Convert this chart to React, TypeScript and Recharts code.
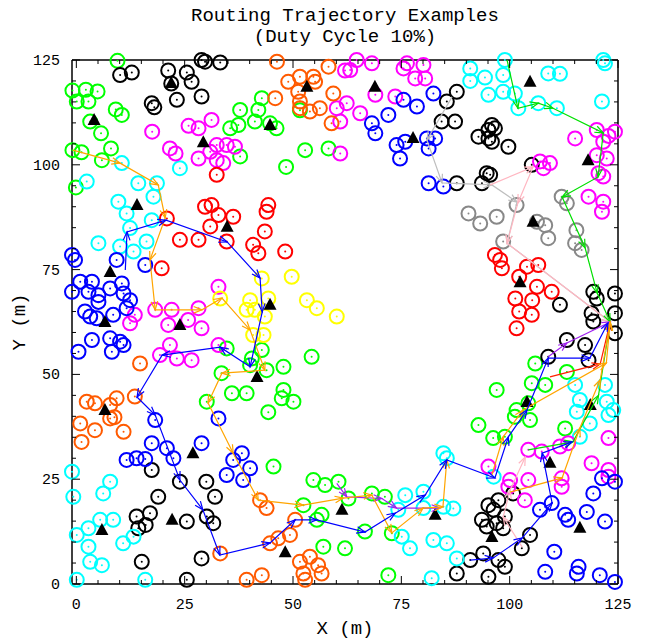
import React from "react";
import { ScatterChart, Scatter, XAxis, YAxis, ReferenceLine } from "recharts";

type Pt = [number, number];

// node positions (m), one list per colour group
const greenNodes: Pt[] = [
  [9.5, 124.8], [-0.9, 117.7], [2.2, 117.9], [4.9, 117.5], [0.1, 115.1], [2.8, 115.1], [9.1, 113.2],
  [10.5, 111.9], [3.2, 110.3], [5.7, 107.5], [8, 103.9], [-0.9, 103.5], [1.2, 103], [5.9, 101.1], [-0.1, 94.6],
  [42.8, 115.9], [37.8, 113.1], [42, 113.1], [35.5, 108.7], [37.4, 109.5], [41.2, 110.3], [44.7, 109.9],
  [46.2, 108.7], [51.6, 113], [52.8, 103.5], [58.2, 103.9], [48.4, 99.5], [37.8, 102],
  [34.7, 56.2], [42.8, 55.8], [40.5, 53.8], [40.1, 52.2], [43.9, 51], [47.8, 51.8], [54.3, 54.2], [33.5, 50.3],
  [35.9, 45.5], [39.3, 45.5], [47.8, 46.3], [47.4, 44.3], [50.1, 43.5], [30.1, 43.5], [44.3, 41],
  [45.5, 28], [54.7, 24.8], [57.4, 23.6], [60.5, 24.4], [52.4, 18.8], [55.5, 15.3], [56.6, 16.5], [57, 8.9], [62, 8.5],
  [92.8, 37.9], [96.2, 34.8], [68.2, 21.6], [71.2, 20.8], [62.8, 20.4], [72.8, 12.1], [66.6, 12.5], [72, 2.1],
  [97, 46.3], [105.9, 52.6], [113.2, 50.6], [105.1, 47.9], [108.2, 47.5], [104.3, 43.1], [101.6, 41.5],
  [101.2, 39.9], [104.7, 39.1], [98.9, 35.1], [112.8, 37.1],
];

const blackNodes: Pt[] = [
  [10.1, 121.4], [12.8, 122], [21.2, 122.5], [25.5, 122], [28.9, 125], [21.9, 119.4], [26.6, 119.8],
  [23.2, 115.5], [28.9, 116.3], [17.4, 114.7], [18, 113.7], [29.7, 124.6], [33.2, 124.4],
  [87.8, 117.4], [85.5, 115.1], [84.3, 110.3], [87.4, 110.3], [92.8, 106.7], [95.1, 108.3], [95.1, 106.3],
  [95.9, 109.5], [87.8, 95.6], [93.6, 95.6], [94.7, 98], [96.6, 108.7], [95.9, 105.5], [99.7, 104.3],
  [95.5, 97.6], [105.1, 100],
  [111.6, 66.6], [119.3, 69.7], [120.1, 68.1], [124.3, 69.3], [124.3, 64.6], [124.3, 59.8], [118.9, 64.6],
  [119.3, 62.6], [113.2, 58.2], [117.4, 57], [108.9, 54.2], [118.2, 53.4],
  [100.8, 21.6], [97.4, 20], [96.3, 17.7], [98.9, 16.1], [97, 14.5], [98.5, 13.3], [104.7, 11.7],
  [102.8, 8.5], [97.4, 5.7], [98.9, 4.1], [95.1, 18.8], [93.6, 15.3], [94.7, 13.7], [90.9, 5.7],
  [93.9, 7.3], [87.8, 2.5], [95.1, 1.7],
  [30, 24.4], [32, 20.8], [30.1, 16.1], [31.6, 14.5], [28.9, 6.1], [17.4, 27.2], [23.9, 24.4],
  [18.9, 20.8], [13.9, 16.1], [17, 16.9], [14.3, 13.3], [16, 14.1], [25.5, 14.9], [15.1, 5.3], [25.5, 1],
];

const cyanNodes: Pt[] = [
  [10.5, 100.4], [23.9, 99.2], [2.4, 96], [14.3, 95.6], [18.6, 95.6], [17.8, 92.4], [9.7, 91.2],
  [11.6, 88.4], [17.4, 86.8], [12.4, 84.9], [5.1, 81.3], [10.1, 80.5], [13.2, 79.3], [16.2, 81.7],
  [90.9, 123], [90.9, 120], [94.3, 120.8], [95.1, 116.7], [98.9, 125], [98.5, 121.4], [108.9, 121.8],
  [111.6, 121.7], [98.5, 117.4], [101.2, 117], [102, 113.5], [106.6, 114.7], [110.9, 113.5],
  [121.6, 125], [122, 124.2], [121.3, 115.1],
  [115.1, 47.5], [122, 47.5], [116.2, 43.9], [122.4, 43.5], [123.9, 41.5], [115.5, 41.1],
  [118.5, 38.3], [122.8, 40.3], [116.2, 35.1], [96.3, 25.6],
  [84.7, 31.2], [85.5, 30], [75.9, 21.2], [80.1, 22], [74.3, 17.7], [80.1, 18.1], [84.7, 18.4], [87, 18],
  [75.1, 11.3], [77, 8.5], [82.4, 10.5], [85.5, 9.7], [87.8, 6.1], [82, 1.4],
  [-1, 26.8], [-0.7, 20.8], [7.8, 24.4], [6.2, 21.6], [5.5, 15.3], [8.5, 15.3], [0.1, 11.7],
  [2.8, 13.3], [2.8, 8.9], [10.8, 9.7], [13.2, 11.3], [3.2, 5.3], [5.9, 4.5], [0.1, 1], [15.9, 1],
];

const magentaNodes: Pt[] = [
  [17.5, 107.9], [21.6, 103.9], [22.9, 102.7], [28.2, 101.5], [25.9, 109.3], [28.2, 108.7],
  [31.2, 110.7], [32.4, 104.7], [34.7, 104.7], [36.6, 104.3], [30.9, 103.1], [32.4, 101.1], [33.9, 100.4],
  [62, 122.5], [62.4, 114.7], [60.1, 113.5], [60.9, 110.3], [60.9, 102.7],
  [64.7, 125], [68.2, 124.2], [63.2, 122.6], [76.3, 124.2], [80.1, 123.8], [75.5, 123], [78.2, 120.6],
  [80.5, 120.6], [69, 116.7], [73.6, 116.3], [65.5, 112.3],
  [115.1, 106.3], [120.1, 108.3], [124.3, 107.9], [122.8, 106.9], [121.6, 105.5], [120.1, 102.3],
  [122.4, 101.5], [120.5, 98], [121.6, 97.2], [109.3, 100.4], [107.8, 99.2], [107, 100.8],
  [118.2, 92.4], [121.6, 91.2], [121.3, 88.8],
  [13.5, 64.2], [12.4, 62.2], [18.2, 65.4], [22, 65.4], [28.2, 65.8], [21.2, 61.8], [25.8, 63],
  [28.9, 61], [21.6, 57], [19.3, 54.6], [23.2, 53.8], [26.6, 53.4], [32.8, 70.9], [32.8, 57],
  [122.8, 34.8], [113.5, 33.6], [111.6, 32.8], [104.3, 32], [107.4, 31.6], [118.9, 28.8], [122.8, 27.2],
  [122.8, 25.6], [112, 25.2], [112, 23.2], [104.3, 24.8], [100.1, 24.8], [99.7, 23.2], [103.5, 20],
  [95.1, 28],
];

const orangeNodes: Pt[] = [
  [46.3, 124.6], [58.2, 123.4], [48.9, 119.8], [51.6, 121], [54.7, 121], [55.1, 119.8], [51.2, 117.4],
  [59.3, 117], [45.9, 115.9], [51.6, 115.1], [51.6, 113.5], [53.9, 112.7], [56.2, 113.5], [58.9, 109.9],
  [14.7, 52.6], [13.5, 44.7], [9.3, 44.3], [7.8, 42.7], [4.3, 43.1], [2.4, 43.5],
  [0.9, 38.3], [4.3, 36.7], [7.8, 39.5], [8.8, 39.8], [10.9, 36.3], [1.2, 33.9],
  [42.4, 20], [43.9, 18.1], [33.2, 7.3], [44.7, 9.7], [46.6, 10.9], [49.3, 11.7], [50.5, 15.3],
  [51.6, 5.3], [53.9, 6.5], [55.8, 4.5], [56.6, 2.5], [52.4, 2.5], [52.8, 1], [39.3, 1], [42.8, 2.1],
];

const redNodes: Pt[] = [
  [20.9, 87.2], [29.7, 90], [32.4, 97.6], [31.2, 90.4], [44.3, 90.4], [43.9, 88.8], [32.8, 88],
  [36.2, 87.6], [30.9, 85.3], [43.5, 84.1], [23.9, 82.1], [28.2, 82.1], [19.7, 75.3],
  [34.7, 81.7], [40.8, 80.9], [42, 78.9], [48.2, 79.3],
  [96.6, 78.5], [97.8, 77.3], [98.2, 75.3], [104, 75.7], [106.6, 76.1], [102.2, 73.3], [106.3, 70.9],
  [109.7, 69.7], [101.3, 68.1], [105.2, 67.7], [102.2, 65], [105.1, 64.2], [101.6, 61],
];

const blueNodes: Pt[] = [
  [82.4, 117], [75.5, 115.5], [78.6, 113.9], [72, 111.9], [68.2, 109.9], [69, 107.5], [80.9, 106.3],
  [82.8, 106.3], [81.3, 103.9], [73.9, 104.7], [75.9, 105.5], [74.7, 101.5], [81.3, 95.6], [84.7, 94.8],
  [-1, 78.5], [-0.3, 77.3], [9.3, 77.3], [15.9, 76.1], [0.9, 72.1], [3.6, 72.1], [10.5, 71.7],
  [-1, 69.7], [2.8, 69.7], [5.1, 68.9], [7.8, 70.5], [10.9, 69.3], [12.4, 67.7], [5.1, 67.3],
  [2, 65], [3.2, 63.8], [4.7, 63.4], [8.5, 64.2], [11.6, 65.8], [3.6, 58.2], [7.8, 58.6], [10.1, 57.8],
  [10.9, 57], [8.2, 55.4], [0.5, 55.4],
  [18.2, 39.1], [17.4, 33.6], [20.9, 32.4], [22.4, 30], [11.6, 29.6], [13.9, 30], [15.9, 29.8], [28.9, 33.6],
  [32.8, 39.5], [38.2, 31.2], [36.2, 29.6], [40.1, 27.6], [34.7, 26], [38.5, 24.8],
  [121.3, 25.2], [124.3, 24.4], [119.3, 21.6], [117.8, 17.2], [122, 14.9], [112.8, 16.5], [113.5, 15.3],
  [109.7, 19.3], [107, 17.7], [110.3, 7.7], [108.2, 2.9], [115.9, 4.1], [115.5, 2.5], [120.8, 2.1], [124.3, 0.5],
];

const yellowNodes: Pt[] = [
  [42.8, 72.9], [49.7, 73.3], [40.1, 67.7], [44.3, 68.1], [39.3, 65.4], [41.2, 65.4], [43.5, 63.8],
  [53.2, 67.7], [55.5, 65.8], [60.1, 63.8], [40.8, 59.4], [43.2, 59.4], [33.2, 68.1],
];

const grayNodes: Pt[] = [
  [90.5, 88.4], [93.2, 86], [97, 87.6], [112, 92.4], [113.2, 90.8], [101.6, 90.4], [106.3, 86.4],
  [108.2, 85.6], [115.4, 84.4], [98.5, 81.7], [108.9, 82.5], [115.1, 81.3], [116.6, 79.7],
];

// sinks
const sinks: Pt[] = [
  [4.1, 110.7], [21.9, 119.5], [29.3, 105.4], [44.7, 109.5], [53.2, 118.6], [68.9, 118.6], [77.7, 106.4],
  [104.7, 119.8], [118.1, 101.1], [105.4, 86.4], [14, 90.4], [7.8, 74.4], [6.6, 62.5], [23.9, 61.8],
  [34.8, 85.2], [44.7, 66.6], [41.7, 49.4], [102.4, 72], [6.6, 41.5], [26.9, 31.2], [5.9, 12.9],
  [22.1, 15.3], [48.2, 7.6], [61.3, 17.7], [82.8, 16.5], [95.9, 11.2], [104, 43.4], [118.6, 42.7],
  [109.3, 28.9], [116.2, 13.4],
];

// routing trajectories
const orangeRoute1: Pt[] = [
  [-0.8, 103.5], [10.1, 100.4], [18.9, 95.2], [20.5, 87.3], [17, 77.3], [18.2, 65.4], [29, 65.4],
  [33.6, 68.2], [40.1, 60.6], [43.5, 51], [33.6, 50.3], [30.4, 43.2], [36.2, 31.2], [42, 20],
  [52.3, 18.8], [61.6, 20.5], [68.2, 21.2], [72.8, 12.2], [80, 18.1], [84.6, 18.4], [85.5, 29.6],
];
const orangeRoute2: Pt[] = [[95.9, 26], [98.5, 35.1], [103.1, 41.5], [122.3, 52.7], [123.2, 62.5]];
const orangeRoute3: Pt[] = [[100.1, 21.9], [112.1, 25.3], [116.2, 37.2], [120.9, 48.7], [123.2, 62.5]];
const blueRoute1: Pt[] = [
  [11.3, 74.9], [11.7, 84], [20.7, 86.8], [34.8, 81.6], [42.4, 73], [42.9, 64.9], [40.1, 51.8],
  [33.2, 56.5], [19.8, 54.6], [14, 44.6], [18.2, 40.3], [23.9, 24.8], [29.2, 17.7], [33.1, 6.9],
  [44.7, 9.8], [50.5, 15.3], [55.5, 15.3], [66.6, 12.4], [73.6, 16.9], [80.5, 21.2], [85.5, 29.6],
  [96.6, 25.3], [99.7, 35.1], [104, 41.5], [108.9, 53.9], [118.5, 53.9], [122.7, 62.3],
];
const blueRoute2: Pt[] = [[90.9, 5.7], [96.2, 6.2], [102.9, 11], [109.8, 19.3], [107.5, 31.2], [114.4, 33.9]];
const greenRoute1: Pt[] = [
  [99.4, 125], [101.9, 113.5], [106.6, 114.7], [110, 113.5], [121.6, 107.6], [120.4, 97.1],
  [112.1, 92.3], [117.4, 80.2], [120.2, 69.4], [123.2, 62.5],
];
const greenRoute2: Pt[] = [[104.3, 32], [114.6, 33.9], [120.5, 45], [123.2, 62.5]];
const grayRoute: Pt[] = [
  [86.7, 116.2], [80.9, 105.9], [84.4, 95.7], [95.9, 95.2], [101.7, 91.1], [99.4, 81.3], [123.2, 62.5],
];
const pinkRoute1: Pt[] = [[95.5, 95.2], [105.4, 99.5], [101.9, 90.9], [99.4, 81.3], [123.2, 62.5]];
const pinkRoute2: Pt[] = [[102.9, 8.8], [98.5, 16], [100.1, 22.4], [103.6, 30.3]];
const purpleRoute1: Pt[] = [[60.1, 24], [62.4, 20.8], [70.5, 20.4], [73.9, 18.1], [83.9, 18.1]];
const purpleRoute2: Pt[] = [[108.9, 54.2], [113.2, 57.5], [123.2, 62.5]];
const redRoute: Pt[] = [[109.3, 49.4], [120.9, 52.5], [123.2, 62.5]];

const X_TICKS = [0, 5, 10, 15, 20, 25, 30, 35, 40, 45, 50, 55, 60, 65, 70, 75, 80, 85, 90, 95, 100, 105, 110, 115, 120, 125];
const Y_TICKS = X_TICKS;

const PLOT = { left: 72, right: 618, top: 60, bottom: 584 };
const SX = (PLOT.right - PLOT.left) / 126;
const SY = (PLOT.bottom - PLOT.top) / 125;
const FONT = "'Liberation Mono', 'DejaVu Sans Mono', monospace";

const toData = (pts: Pt[]) => pts.map(([x, y]) => ({ x, y }));
const toRoute = (pts: Pt[]) =>
  pts.map(([x, y], i) => ({ x, y, px: i > 0 ? pts[i - 1][0] : null, py: i > 0 ? pts[i - 1][1] : null }));

const nodeShape = (color: string) => (props: any) => {
  const { cx, cy } = props;
  return (
    <g>
      <circle cx={cx} cy={cy} r={7} fill="none" stroke={color} strokeWidth={2} />
      <circle cx={cx} cy={cy} r={1} fill={color} />
    </g>
  );
};

const sinkShape = (props: any) => {
  const { cx, cy } = props;
  return <path d={`M${cx},${cy - 7}L${cx + 6.5},${cy + 5}L${cx - 6.5},${cy + 5}Z`} fill="#000" />;
};

const arrowShape = (color: string) => (props: any) => {
  const { cx, cy, payload } = props;
  if (payload.px == null) return <g />;
  const a = Math.atan2(-(payload.y - payload.py) * SY, (payload.x - payload.px) * SX);
  const L = 9;
  const h = 0.38;
  const x1 = cx - L * Math.cos(a - h);
  const y1 = cy - L * Math.sin(a - h);
  const x2 = cx - L * Math.cos(a + h);
  const y2 = cy - L * Math.sin(a + h);
  return <path d={`M${x1},${y1}L${cx},${cy}L${x2},${y2}`} fill="none" stroke={color} strokeWidth={1.2} />;
};

const XTick = (props: any) => {
  const { x, payload } = props;
  const major = payload.value % 25 === 0;
  const len = major ? 8 : 4;
  return (
    <g>
      <line x1={x} x2={x} y1={PLOT.bottom} y2={PLOT.bottom - len} stroke="#000" />
      <line x1={x} x2={x} y1={PLOT.top} y2={PLOT.top + len} stroke="#000" />
      {major && (
        <text x={x} y={PLOT.bottom + 25} textAnchor="middle" fontFamily={FONT} fontSize={15} fill="#000">
          {payload.value}
        </text>
      )}
    </g>
  );
};

const YTick = (props: any) => {
  const { y, payload } = props;
  const major = payload.value % 25 === 0;
  const len = major ? 8 : 4;
  return (
    <g>
      <line x1={PLOT.left} x2={PLOT.left + len} y1={y} y2={y} stroke="#000" />
      <line x1={PLOT.right} x2={PLOT.right - len} y1={y} y2={y} stroke="#000" />
      {major && (
        <text x={PLOT.left - 12} y={y + 5} textAnchor="end" fontFamily={FONT} fontSize={15} fill="#000">
          {payload.value}
        </text>
      )}
    </g>
  );
};

const nodeGroups: [Pt[], string][] = [
  [greenNodes, "#00ff00"],
  [blackNodes, "#000000"],
  [cyanNodes, "#00ffff"],
  [magentaNodes, "#ff00ff"],
  [orangeNodes, "#ff5a00"],
  [redNodes, "#ff0000"],
  [blueNodes, "#0000ff"],
  [yellowNodes, "#ffff00"],
  [grayNodes, "#888888"],
];

const routes: [Pt[], string][] = [
  [grayRoute, "#bebebe"],
  [pinkRoute1, "#ffb6c1"],
  [pinkRoute2, "#ffb6c1"],
  [greenRoute1, "#00e000"],
  [greenRoute2, "#00e000"],
  [redRoute, "#ff2000"],
  [purpleRoute1, "#a020f0"],
  [purpleRoute2, "#a020f0"],
  [orangeRoute1, "#ffa500"],
  [orangeRoute2, "#ffa500"],
  [orangeRoute3, "#ffa500"],
  [blueRoute1, "#0000ff"],
  [blueRoute2, "#0000ff"],
];

const titleStyle: React.CSSProperties = {
  position: "absolute", left: 0, width: 690, textAlign: "center",
  fontFamily: FONT, fontSize: 19, lineHeight: "20px", color: "#000", whiteSpace: "nowrap",
};

export default function App() {
  return (
    <div style={{ position: "absolute", left: 0, top: 0, width: 645, height: 639, background: "#fff" }}>
      <div style={{ ...titleStyle, top: 6 }}>Routing Trajectory Examples</div>
      <div style={{ ...titleStyle, top: 27 }}>(Duty Cycle 10%)</div>
      <div style={{ ...titleStyle, top: 619 }}>X (m)</div>
      <div
        style={{
          ...titleStyle, left: -30, top: 312, width: 100,
          transform: "rotate(-90deg)",
        }}
      >
        Y (m)
      </div>
      <ScatterChart width={645} height={639} margin={{ top: 60, right: 27, bottom: 25, left: 32 }}>
        <XAxis
          type="number"
          dataKey="x"
          domain={[-1, 125]}
          ticks={X_TICKS}
          interval={0}
          tick={<XTick />}
          tickLine={false}
          axisLine={{ stroke: "#000", strokeWidth: 1.5 }}
          height={30}
        />
        <YAxis
          type="number"
          dataKey="y"
          domain={[0, 125]}
          ticks={Y_TICKS}
          interval={0}
          tick={<YTick />}
          tickLine={false}
          axisLine={{ stroke: "#000", strokeWidth: 1.5 }}
          width={40}
        />
        <ReferenceLine y={125} stroke="#000" strokeWidth={1.5} />
        <ReferenceLine x={125} stroke="#000" strokeWidth={1.5} />
        {nodeGroups.map(([pts, color], i) => (
          <Scatter key={`n${i}`} data={toData(pts)} shape={nodeShape(color)} isAnimationActive={false} />
        ))}
        <Scatter data={toData(sinks)} shape={sinkShape} isAnimationActive={false} />
        {routes.map(([pts, color], i) => (
          <Scatter
            key={`r${i}`}
            data={toRoute(pts)}
            line={{ stroke: color, strokeWidth: 1.2 }}
            shape={arrowShape(color)}
            isAnimationActive={false}
          />
        ))}
      </ScatterChart>
    </div>
  );
}
